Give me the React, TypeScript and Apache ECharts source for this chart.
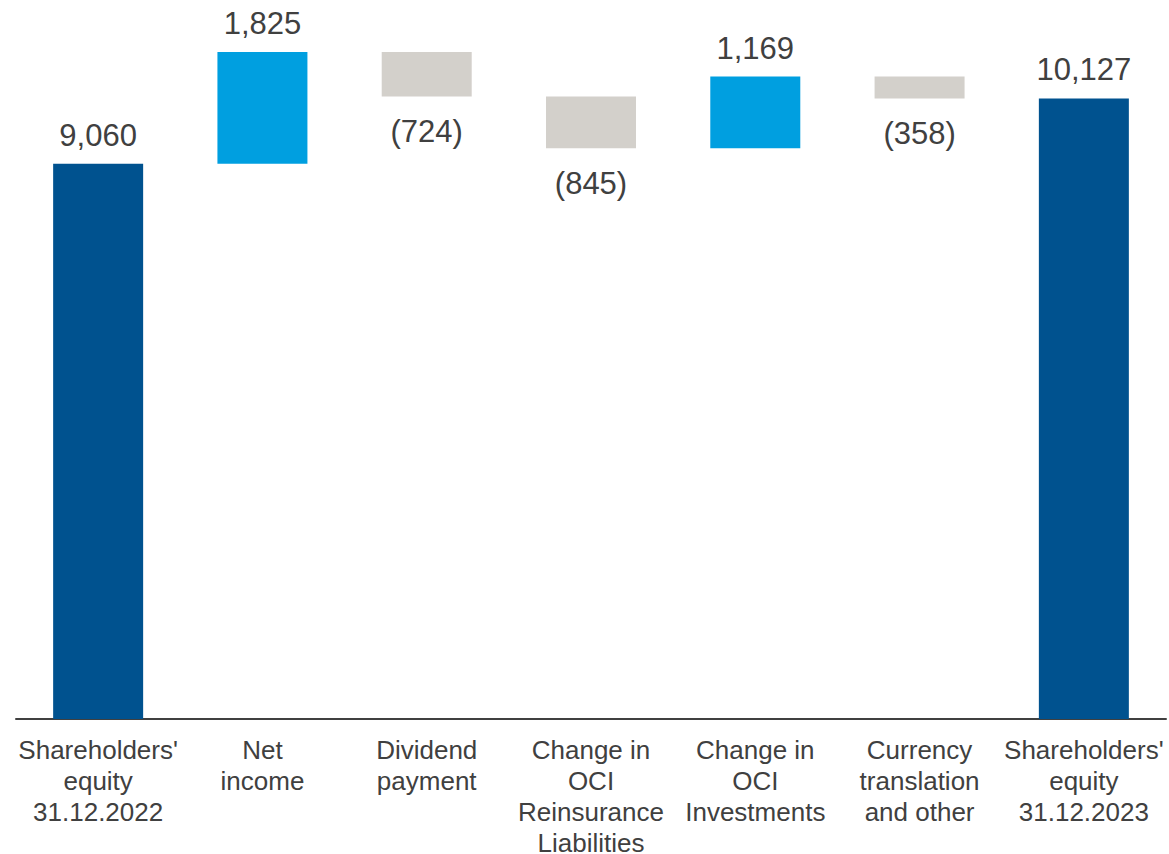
import React, { useEffect, useRef } from "react";
import * as echarts from "echarts";

const categories = [
  "Shareholders'\nequity\n31.12.2022",
  "Net\nincome",
  "Dividend\npayment",
  "Change in\nOCI\nReinsurance\nLiabilities",
  "Change in\nOCI\nInvestments",
  "Currency\ntranslation\nand other",
  "Shareholders'\nequity\n31.12.2023",
];
const values = [9060, 1825, -724, -845, 1169, -358, 10127];
const kinds = ["total", "change", "change", "change", "change", "change", "total"];

const DARK = "#00528F";
const LIGHT = "#009FE0";
const GRAY = "#D3D0CB";
const TEXT = "#404040";

function fmt(v: number) {
  const s = Math.abs(v).toLocaleString("en-US");
  return v < 0 ? `(${s})` : s;
}

export default function App() {
  const ref = useRef<HTMLDivElement>(null);
  useEffect(() => {
    if (!ref.current) return;
    const chart = echarts.init(ref.current, null, { renderer: "svg" });
    let running = 0;
    const base: number[] = [];
    const bars: any[] = [];
    values.forEach((v, i) => {
      if (kinds[i] === "total") {
        base.push(0);
        running = v;
        bars.push({
          value: v,
          itemStyle: { color: DARK },
          label: { position: "top", distance: 13 },
        });
      } else if (v >= 0) {
        base.push(running);
        running += v;
        bars.push({
          value: v,
          itemStyle: { color: LIGHT },
          label: { position: "top", distance: 13 },
        });
      } else {
        running += v;
        base.push(running);
        bars.push({
          value: -v,
          itemStyle: { color: GRAY },
          label: { position: "bottom", distance: 20 },
        });
      }
    });
    chart.setOption({
      animation: false,
      grid: { left: 16, right: 3, top: 45, bottom: 135, containLabel: false, outerBoundsMode: "none" },
      xAxis: {
        type: "category",
        data: categories,
        axisLine: { lineStyle: { color: TEXT, width: 2 } },
        axisTick: { show: false },
        axisLabel: {
          interval: 0,
          margin: 15,
          fontFamily: "Liberation Sans, Arial, sans-serif",
          fontSize: 26,
          lineHeight: 31,
          color: TEXT,
        },
      },
      yAxis: {
        type: "value",
        min: 0,
        max: 11000,
        show: false,
        splitLine: { show: false },
      },
      series: [
        {
          type: "bar",
          stack: "w",
          data: base,
          itemStyle: { color: "transparent" },
          barWidth: 90,
          silent: true,
        },
        {
          type: "bar",
          stack: "w",
          data: bars,
          barWidth: 90,
          label: {
            show: true,
            fontFamily: "Liberation Sans, Arial, sans-serif",
            fontSize: 31,
            color: TEXT,
            formatter: (p: any) => fmt(values[p.dataIndex]),
          },
        },
      ],
    });
    return () => chart.dispose();
  }, []);
  return (
    <div
      ref={ref}
      style={{ position: "absolute", left: 0, top: 0, width: 1169, height: 854, background: "#fff" }}
    />
  );
}
